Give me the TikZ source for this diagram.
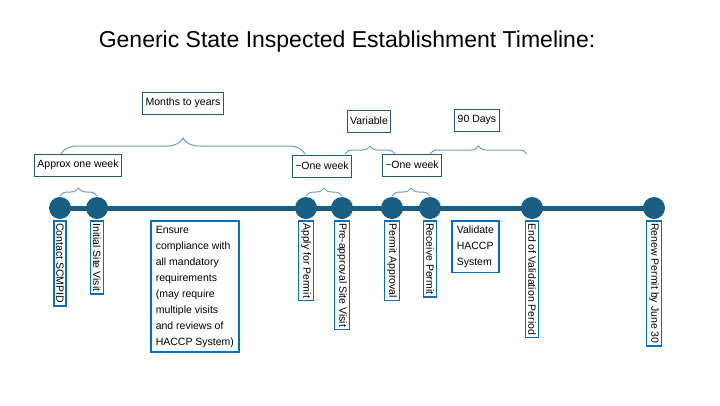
\documentclass[tikz,border=0pt]{standalone}
\usepackage{fontspec}
\setmainfont{Liberation Sans}
\usetikzlibrary{positioning,calc,decorations.pathreplacing}
\definecolor{lineteal}{RGB}{24,94,131}
\definecolor{boxblue}{RGB}{0,112,192}
\definecolor{tagteal}{RGB}{31,90,125}
\definecolor{braceteal}{RGB}{110,155,185}

\begin{document}
\begin{tikzpicture}[x=1pt,y=-1pt,
	dot/.style={circle, fill=lineteal, minimum size=22pt, inner sep=0pt},
	event/.style={draw=boxblue, line width=1.6pt, rotate=-90, anchor=west,
		font=\fontsize{10.5}{13}\selectfont, inner sep=2.5pt},
	tag/.style={draw=tagteal, line width=0.8pt, font=\fontsize{10.5}{13}\selectfont,
		inner sep=3pt, minimum height=22pt},
	span/.style={draw=braceteal, line width=1pt, decorate,
		decoration={brace, amplitude=#1}},
	span/.default=8pt
	]
	\useasboundingbox (0,0) rectangle (720,405);
	\node[font=\fontsize{23}{26}\selectfont] (title) at (347,42) {Generic State Inspected Establishment Timeline:};
	% the line and its points
	\draw[lineteal, line width=5pt] (60,208) -- (654,208);
	\foreach \x [count=\i] in {60,97,306,342,392,430,532,654}
		\node[dot] (d\i) at (\x,208) {};
	% labels under the line
	\node[event] (s1) at (60,220) {Contact SCMPID};
	\node[event] (s2) at (97,220) {Initial Site Visit};
	\node[event] (s3) at (306,220) {Apply for Permit};
	\node[event] (s4) at (342,220) {Pre-approval Site Visit};
	\node[event] (s5) at (392,220) {Permit Approval};
	\node[event] (s6) at (430,220) {Receive Permit};
	\node[event] (s7) at (532,220) {End of Validation Period};
	\node[event] (s8) at (654,220) {Renew Permit by June 30};
	\node[draw=boxblue, line width=1.6pt, anchor=north west, align=left,
		font=\fontsize{10.5}{16}\selectfont, inner sep=5pt] (ensure) at (150,220)
		{Ensure\\compliance with\\all mandatory\\requirements\\(may require\\multiple visits\\and reviews of\\HACCP System)};
	\node[draw=boxblue, line width=1.6pt, anchor=north west, align=left,
		font=\fontsize{10.5}{16}\selectfont, inner sep=5pt] (haccp) at (451,220)
		{Validate\\HACCP\\System};
	% durations
	\node[tag] (wk1) at (78,165) {Approx one week};
	\node[tag] (wk2) at (322,166) {\textasciitilde One week};
	\node[tag] (wk3) at (412,165) {\textasciitilde One week};
	\node[tag] (months) at (183,103) {Months to years};
	\node[tag] (var) at (369,121) {Variable};
	\node[tag] (days) at (477,120) {90 Days};
	\draw[span] ($(d1)+(0,-12)$) -- ($(d2)+(0,-12)$);
	\draw[span] ($(d3)+(0,-12)$) -- ($(d4)+(0,-12)$);
	\draw[span] ($(d5)+(0,-12)$) -- ($(d6)+(0,-12)$);
	\draw[span=16pt] (61,154) -- (305,154);
	\draw[span] (345,154) -- (395,154);
	\draw[span] (430,154) -- (527,154);
\end{tikzpicture}
\end{document}
